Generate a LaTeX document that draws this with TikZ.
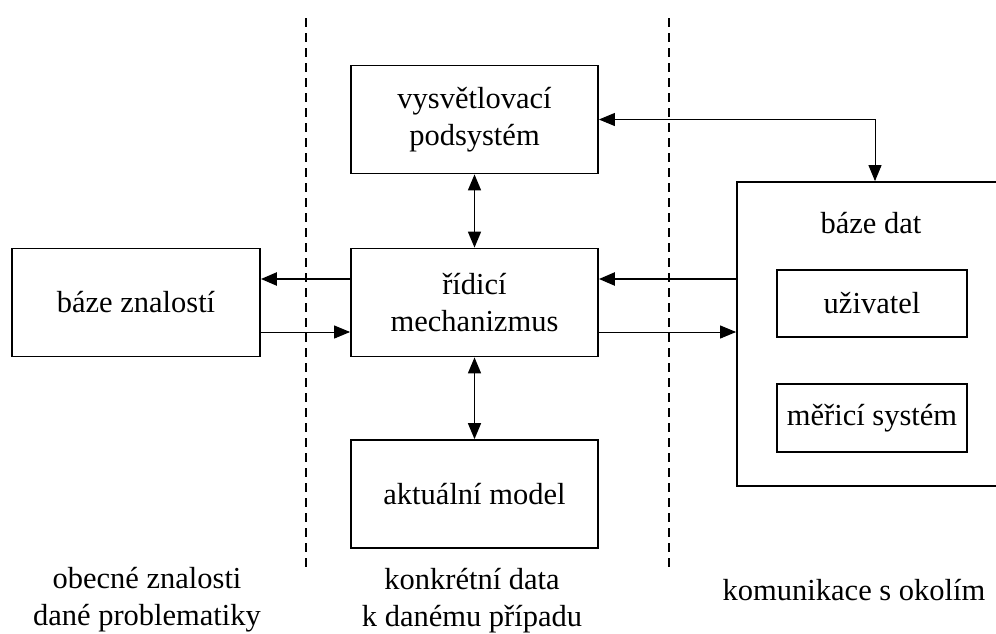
\documentclass[tikz,border=0pt]{standalone}
\usepackage{fontspec}
\setmainfont{Liberation Serif}
\usetikzlibrary{arrows.meta}
\tikzset{
  >= {Triangle[length=16pt,width=13pt]},
  bx/.style={rectangle, draw, line width=1.8pt, inner sep=0pt, align=center, minimum width=247pt, minimum height=#1},
  bx/.default=108pt,
  sb/.style={rectangle, draw, line width=1.5pt, inner sep=0pt, minimum width=190pt, minimum height=67pt},
  lb/.style={align=center, inner sep=0pt},
  dl/.style={line width=2pt, dash pattern=on 9pt off 6pt},
  ta/.style={line width=1pt},
  ka/.style={line width=2.4pt}
}

\begin{document}
\begin{tikzpicture}[x=1pt, y=-1pt, font=\fontsize{30.5}{37}\selectfont]
  \useasboundingbox (0,0) rectangle (996,633);
  \clip (0,0) rectangle (996,633);
  % levels of the horizontal arrows
  \coordinate (hi) at (0,279);
  \coordinate (lo) at (0,332);

  \node[bx] (vysv) at (474.5,119.5) {vysvětlovací\\podsystém};
  \node[bx] (ridici) at (474.5,302.5) {řídicí\\mechanizmus};
  \node[bx] (akt) at (474.5,494) {aktuální model};
  \node[bx, minimum width=248pt] (znal) at (136,302.5) {báze znalostí};

  % baze dat, its right side lies beyond the edge
  \node[bx, minimum width=290pt, minimum height=304pt] (bdat) at (882,334) {};
  \node[lb] (bdatlb) at (871,223) {báze dat};
  \node[sb] (uziv) at (872,303.5) {uživatel};
  \node[sb, minimum height=68pt] (meric) at (872,418) {měřicí systém};

  \draw[dl] (306,18) coordinate (d1a) -- (306,572) coordinate (d1b);
  \draw[dl] (669,18) coordinate (d2a) -- (669,572) coordinate (d2b);

  \draw[ta,<->] (vysv.east) -| (bdat.north -| 875,0);
  \draw[ka,<->, line width=1.6pt] (vysv.south) -- (ridici.north);
  \draw[ka,<->, line width=1.6pt] (ridici.south) -- (akt.north);

  \draw[ka,->] (ridici.west |- hi) -- (znal.east |- hi);
  \draw[ta,->] (znal.east |- lo) -- (ridici.west |- lo);
  \draw[ka,->] (bdat.west |- hi) -- (ridici.east |- hi);
  \draw[ta,->] (ridici.east |- lo) -- (bdat.west |- lo);

  \node[lb] (obec) at (147,600) {obecné znalosti\\dané problematiky};
  \node[lb] (konkr) at (472,601) {konkrétní data\\k danému případu};
  \node[lb] (komun) at (854,590) {komunikace s okolím};
\end{tikzpicture}
\end{document}
